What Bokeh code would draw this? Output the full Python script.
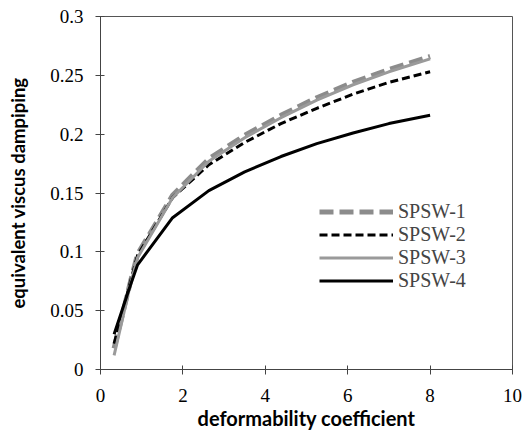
from bokeh.plotting import figure
from bokeh.models import FixedTicker, Legend, LegendItem, Range1d
from bokeh.embed import file_html
from bokeh.resources import INLINE

x_vals = [0.33, 0.73, 0.9, 1.75, 2.63, 3.5, 4.38, 5.25, 6.13, 7.0, 8.0]
spsw1 = [0.018, 0.075, 0.098, 0.148, 0.179, 0.199, 0.216, 0.231, 0.244, 0.255, 0.266]
spsw2 = [0.022, 0.075, 0.097, 0.146, 0.174, 0.193, 0.209, 0.222, 0.234, 0.244, 0.253]
spsw3 = [0.012, 0.073, 0.095, 0.146, 0.177, 0.197, 0.214, 0.229, 0.242, 0.253, 0.264]
spsw4 = [0.030, 0.072, 0.089, 0.129, 0.152, 0.168, 0.181, 0.192, 0.201, 0.209, 0.216]
names = ["SPSW-1", "SPSW-2", "SPSW-3", "SPSW-4"]
x_ticks = [0, 2, 4, 6, 8, 10]
y_ticks = [0, 0.05, 0.1, 0.15, 0.2, 0.25, 0.3]
y_tick_labels = ["0", "0.05", "0.1", "0.15", "0.2", "0.25", "0.3"]

SERIF = "Liberation Serif"

p = figure(width=524, height=432, output_backend="svg", toolbar_location=None,
           x_range=Range1d(0, 10), y_range=Range1d(0, 0.3),
           min_border_left=100, min_border_right=12, min_border_top=16, min_border_bottom=58)
p.background_fill_color = "white"
p.border_fill_color = "white"
p.outline_line_color = "#555555"
p.outline_line_width = 1
p.grid.visible = False

styles = [
    dict(line_color="#8c8c8c", line_width=5, line_dash="14 6"),
    dict(line_color="black", line_width=3, line_dash="8 4"),
    dict(line_color="#9a9a9a", line_width=3),
    dict(line_color="black", line_width=3),
]
renderers = []
for ys, st in zip([spsw1, spsw2, spsw3, spsw4], styles):
    renderers.append(p.line(x_vals, ys, **st))

for ax in (p.xaxis, p.yaxis):
    ax.major_label_text_font = SERIF
    ax.major_label_text_font_size = "19px"
    ax.major_label_text_color = "black"
    ax.axis_label_text_font = "Lato"
    ax.axis_label_text_font_style = "bold"
    ax.axis_label_text_color = "black"
    ax.minor_tick_line_color = None
    ax.major_tick_in = 4
    ax.major_tick_out = 5
    ax.axis_line_color = "#444444"
    ax.major_tick_line_color = "#444444"

p.xaxis.axis_label_text_font_size = "20px"
p.yaxis.axis_label_text_font_size = "18.5px"
p.xaxis.ticker = FixedTicker(ticks=x_ticks)
p.yaxis.ticker = FixedTicker(ticks=y_ticks)
p.yaxis.major_label_overrides = {t: l for t, l in zip(y_ticks, y_tick_labels)}
p.xaxis.axis_label = "deformability coefficient"
p.yaxis.axis_label = "equivalent viscus dampiping"
p.xaxis.major_label_standoff = 14
p.xaxis.axis_label_standoff = 1
p.yaxis.major_label_standoff = 12
p.yaxis.axis_label_standoff = 18

legend = Legend(items=[LegendItem(label=n, renderers=[r]) for n, r in zip(names, renderers)],
                location=(219, 77))
legend.background_fill_alpha = 0
legend.border_line_color = None
legend.padding = 0
legend.margin = 0
legend.spacing = 0
legend.glyph_width = 74
legend.glyph_height = 23
legend.label_height = 23
legend.label_standoff = 5
legend.label_text_font = SERIF
legend.label_text_font_size = "20px"
p.add_layout(legend)

open("out.html", "w").write(file_html(p, INLINE))
